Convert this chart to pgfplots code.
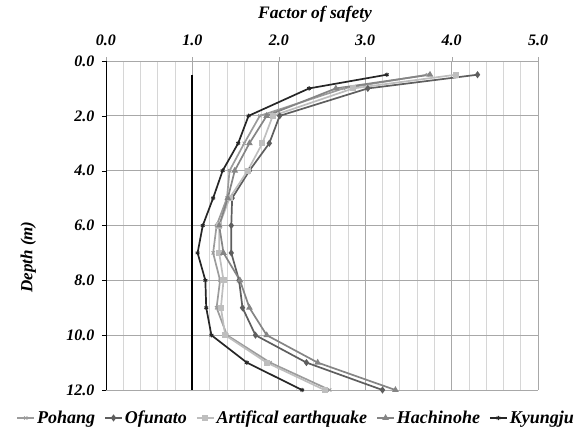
\documentclass[border=0pt]{standalone}
\usepackage{pgfplots}
\pgfplotsset{compat=1.18}
\usepackage{fontspec}
\setmainfont{Liberation Serif}
\definecolor{cPoh}{HTML}{9C9C9C}
\definecolor{cOfu}{HTML}{5E5E5E}
\definecolor{cArt}{HTML}{BEBEBE}
\definecolor{cHac}{HTML}{858585}
\definecolor{cKyu}{HTML}{262626}
\begin{document}
\begin{tikzpicture}
\path[use as bounding box] (-106pt,-51pt) rectangle (479pt,390pt);
\begin{axis}[
    at={(0,0)}, anchor=south west,
    width=432pt, height=329pt, scale only axis,
    xmin=0, xmax=5, ymin=0, ymax=12,
    y dir=reverse,
    axis line style={draw=none},
    xtick={0,1,2,3,4,5},
    xticklabels={0.0,1.0,2.0,3.0,4.0,5.0},
    ytick={0,2,4,6,8,10,12},
    yticklabels={0.0,2.0,4.0,6.0,8.0,10.0,12.0},
    minor x tick num=4,
    xticklabel pos=upper,
    ytick pos=left, xtick pos=upper,
    tick align=outside,
    major tick length=4pt, minor tick length=0pt,
    x tick style={gray!70}, y tick style={black},
    grid=both,
    major grid style={gray!68, line width=0.7pt},
    minor grid style={gray!32, line width=0.7pt},
    ticklabel style={font=\fontsize{16}{18}\selectfont\bfseries\itshape},
    xticklabel style={yshift=8pt},
    yticklabel style={xshift=-4pt},
    xlabel={Factor of safety},
    ylabel={Depth (m)},
    every axis x label/.style={at={(axis description cs:0.484,1.143)}, anchor=center,
        font=\fontsize{17.5}{19}\selectfont\bfseries\itshape},
    every axis y label/.style={at={(axis description cs:-0.18,0.404)}, anchor=center, rotate=90,
        font=\fontsize{17}{19}\selectfont\bfseries\itshape},
    legend columns=5,
    legend style={at={(0.44,-0.085)}, anchor=center, draw=none, fill=none,
        font=\fontsize{18}{20}\selectfont\bfseries\itshape,
        /tikz/every even column/.append style={column sep=7pt}},
    legend cell align=left,
    every axis plot/.append style={line width=1.7pt, mark size=2.2pt},
]
\addplot[cPoh, mark=x, mark options={line width=1pt}] coordinates {
(3.72,0.5) (2.75,1) (1.78,2) (1.60,3) (1.43,4) (1.40,5) (1.28,6) (1.24,7) (1.32,8) (1.28,9) (1.40,10) (1.90,11) (2.59,12)};
\addplot[cOfu, mark=diamond*] coordinates {
(4.30,0.5) (3.03,1) (2.01,2) (1.89,3) (1.66,4) (1.46,5) (1.45,6) (1.45,7) (1.54,8) (1.58,9) (1.73,10) (2.32,11) (3.20,12)};
\addplot[cArt, mark=square*] coordinates {
(4.05,0.5) (2.86,1) (1.93,2) (1.81,3) (1.64,4) (1.43,5) (1.31,6) (1.31,7) (1.36,8) (1.33,9) (1.38,10) (1.86,11) (2.53,12)};
\addplot[cHac, mark=triangle*] coordinates {
(3.75,0.5) (2.66,1) (1.86,2) (1.66,3) (1.49,4) (1.41,5) (1.31,6) (1.36,7) (1.55,8) (1.66,9) (1.86,10) (2.45,11) (3.35,12)};
\addplot[cKyu, mark=asterisk, mark options={line width=1pt}] coordinates {
(3.25,0.5) (2.35,1) (1.65,2) (1.53,3) (1.35,4) (1.24,5) (1.12,6) (1.06,7) (1.15,8) (1.16,9) (1.22,10) (1.63,11) (2.27,12)};
\addplot[black, line width=2pt, forget plot] coordinates {(1,0.5) (1,12)};
\legend{Pohang, Ofunato, Artifical earthquake, Hachinohe, Kyungju}
\end{axis}
\draw[black, line width=0.8pt] (0pt,0pt) -- (0pt,329pt);
\end{tikzpicture}
\end{document}
